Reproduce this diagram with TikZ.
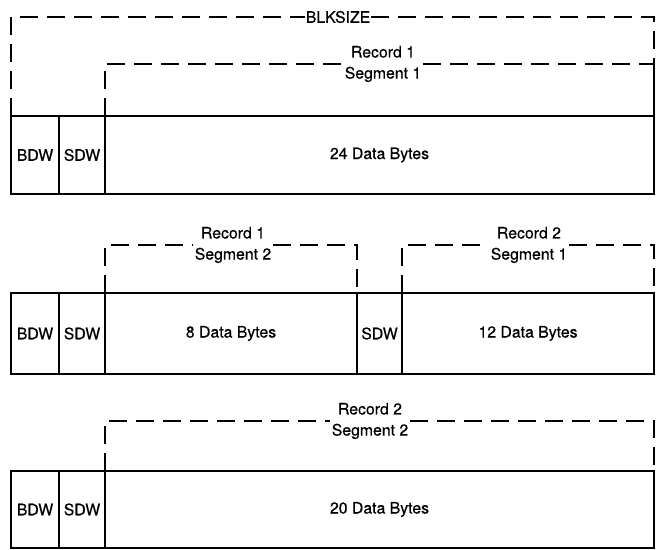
\documentclass[tikz,border=0pt]{standalone}
\usepackage{fontspec}
\setmainfont{TeX Gyre Heros}[FakeBold=0.5]
\usetikzlibrary{positioning}
\tikzset{
  cell/.style={rectangle,draw=black,line width=1.1pt,inner sep=0pt,outer sep=0pt,
               font=\fontsize{9}{10}\selectfont},
  seglab/.style={fill=white,inner sep=1pt,align=center,
                 font=\fontsize{9}{12}\selectfont},
  dashline/.style={line width=0.8pt,dash pattern=on 0.36cm off 0.18cm},
}

\begin{document}
\begin{tikzpicture}[x=0.02cm,y=-0.02cm]
\useasboundingbox (0,0) rectangle (663,550);
% first block
\node[cell,minimum width=0.96cm,minimum height=1.56cm] (bdwA) at (35,155) {BDW};
\node[cell,minimum width=0.92cm,minimum height=1.56cm] (sdwA) at (82,155) {SDW};
\node[cell,minimum width=10.98cm,minimum height=1.56cm] (datA) at (379.5,155) {24 Data Bytes};
\node[seglab,inner sep=0.5pt] (blk) at (338,17) {BLKSIZE};
\draw[dashline] (bdwA.north west) |- (blk.west);
\draw[dashline] (blk.east) -| (datA.north east);
\node[seglab] (recA) at (383,64) {Record 1\\Segment 1};
\draw[dashline] (datA.north west) |- (recA.west);
\draw[dashline] (recA.east) -| (datA.north east);
% second block
\node[cell,minimum width=0.96cm,minimum height=1.62cm] (bdwB) at (35,333.5) {BDW};
\node[cell,minimum width=0.92cm,minimum height=1.62cm] (sdwB) at (82,333.5) {SDW};
\node[cell,minimum width=5.04cm,minimum height=1.62cm] (datB) at (231,333.5) {8 Data Bytes};
\node[cell,minimum width=0.9cm,minimum height=1.62cm] (sdwC) at (379.5,333.5) {SDW};
\node[cell,minimum width=5.04cm,minimum height=1.62cm] (datC) at (528,333.5) {12 Data Bytes};
\node[seglab] (recB) at (233,245) {Record 1\\Segment 2};
\draw[dashline] (datB.north west) |- (recB.west);
\draw[dashline] (recB.east) -| (datB.north east);
\node[seglab] (recC) at (529,245) {Record 2\\Segment 1};
\draw[dashline] (datC.north west) |- (recC.west);
\draw[dashline] (recC.east) -| (datC.north east);
% third block
\node[cell,minimum width=0.96cm,minimum height=1.54cm] (bdwD) at (35,509.5) {BDW};
\node[cell,minimum width=0.92cm,minimum height=1.54cm] (sdwD) at (82,509.5) {SDW};
\node[cell,minimum width=10.98cm,minimum height=1.54cm] (datD) at (379.5,509.5) {20 Data Bytes};
\node[seglab] (recD) at (370,421) {Record 2\\Segment 2};
\draw[dashline] (datD.north west) |- (recD.west);
\draw[dashline] (recD.east) -| (datD.north east);
\end{tikzpicture}
\end{document}
